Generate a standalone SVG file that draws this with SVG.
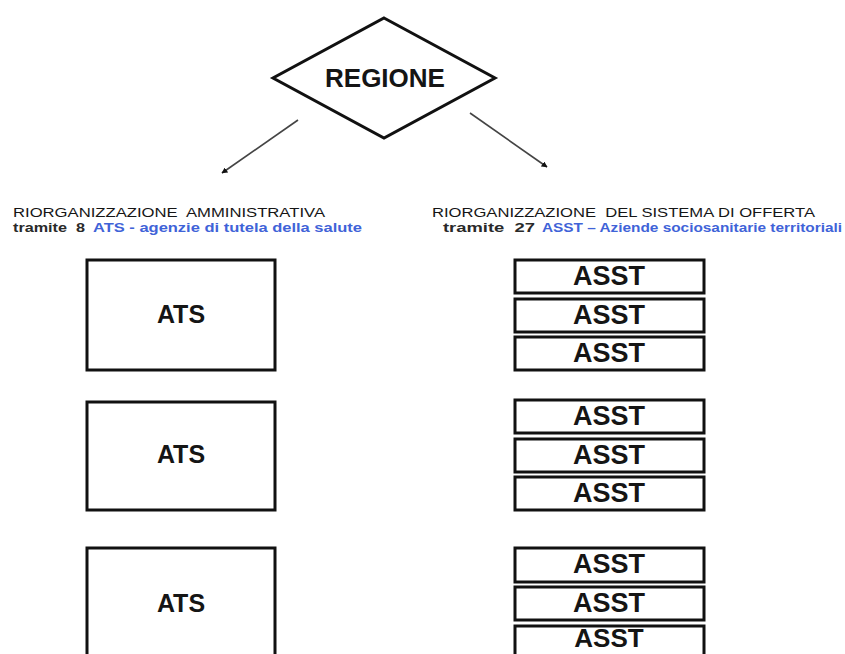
<svg xmlns="http://www.w3.org/2000/svg" width="845" height="654" viewBox="0 0 845 654">
<defs>
<style>
.box{fill:#fff;stroke:#111;stroke-width:3}
.big{font-family:"Liberation Sans",Arial,sans-serif;font-weight:bold;fill:#151515;text-anchor:middle}
.hd{font-family:"Liberation Sans",Arial,sans-serif;font-size:12px;fill:#151515;white-space:pre}
.sub{font-family:"Liberation Sans",Arial,sans-serif;font-size:12px;font-weight:bold;fill:#2a2a2a;white-space:pre}
.blue{fill:#3f63d8}
.conn{stroke:#444;stroke-width:1.6;fill:none;marker-end:url(#ah)}
</style>
<marker id="ah" viewBox="0 0 10 10" refX="9" refY="5" markerWidth="6" markerHeight="6" orient="auto" markerUnits="userSpaceOnUse">
<path d="M0,0 L10,5 L0,10 z" fill="#111"/>
</marker>
</defs>
<rect width="845" height="654" fill="#fff"/>

<g id="regione">
<polygon points="384,18 495,78 384,138 273,78" fill="#fff" stroke="#111" stroke-width="3"/>
<text class="big" x="385" y="87" font-size="26">REGIONE</text>
</g>

<g id="connectors">
<line class="conn" x1="298" y1="120" x2="222" y2="173"/>
<line class="conn" x1="470" y1="113" x2="547" y2="167"/>
</g>

<g id="heading-left">
<text class="hd" x="13" y="217" textLength="312" lengthAdjust="spacingAndGlyphs">RIORGANIZZAZIONE  AMMINISTRATIVA</text>
<text class="sub" x="13" y="232" textLength="72" lengthAdjust="spacingAndGlyphs">tramite  8</text>
<text class="sub blue" x="93" y="232" textLength="269" lengthAdjust="spacingAndGlyphs">ATS - agenzie di tutela della salute</text>
</g>

<g id="heading-right">
<text class="hd" x="432" y="217" textLength="383" lengthAdjust="spacingAndGlyphs">RIORGANIZZAZIONE  DEL SISTEMA DI OFFERTA</text>
<text class="sub" x="443" y="232" textLength="92" lengthAdjust="spacingAndGlyphs">tramite  27</text>
<text class="sub blue" x="542" y="232" textLength="300" lengthAdjust="spacingAndGlyphs">ASST – Aziende sociosanitarie territoriali</text>
</g>

<g id="ats1"><rect class="box" x="87" y="260" width="188" height="110"/><text class="big" x="181" y="323" font-size="25">ATS</text></g>
<g id="ats2"><rect class="box" x="87" y="402" width="188" height="108"/><text class="big" x="181" y="463" font-size="25">ATS</text></g>
<g id="ats3"><rect class="box" x="87" y="548" width="188" height="120"/><text class="big" x="181" y="612" font-size="25">ATS</text></g>

<g id="asst1"><rect class="box" x="515" y="260" width="189" height="33"/><text class="big" x="609" y="285" font-size="27">ASST</text></g>
<g id="asst2"><rect class="box" x="515" y="299" width="189" height="33"/><text class="big" x="609" y="324" font-size="27">ASST</text></g>
<g id="asst3"><rect class="box" x="515" y="337" width="189" height="33"/><text class="big" x="609" y="362" font-size="27">ASST</text></g>
<g id="asst4"><rect class="box" x="515" y="400" width="189" height="33"/><text class="big" x="609" y="425" font-size="27">ASST</text></g>
<g id="asst5"><rect class="box" x="515" y="439" width="189" height="33"/><text class="big" x="609" y="464" font-size="27">ASST</text></g>
<g id="asst6"><rect class="box" x="515" y="477" width="189" height="33"/><text class="big" x="609" y="502" font-size="27">ASST</text></g>
<g id="asst7"><rect class="box" x="515" y="548" width="189" height="34"/><text class="big" x="609" y="573" font-size="27">ASST</text></g>
<g id="asst8"><rect class="box" x="515" y="587" width="189" height="33"/><text class="big" x="609" y="612" font-size="27">ASST</text></g>
<g id="asst9"><rect class="box" x="515" y="626" width="189" height="40"/><text class="big" x="609" y="647" font-size="26">ASST</text></g>
</svg>
